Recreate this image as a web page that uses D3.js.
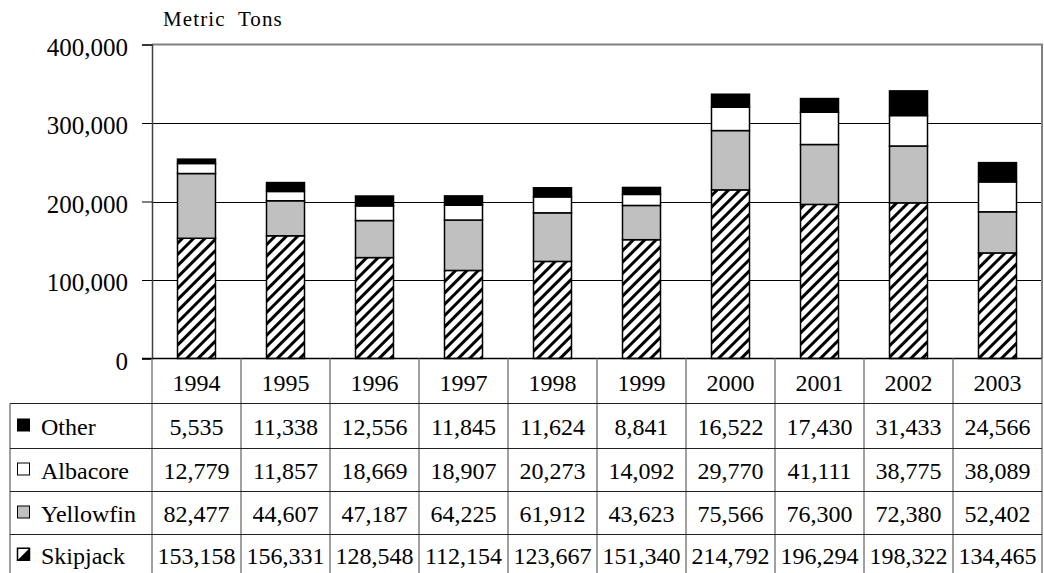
<!DOCTYPE html>
<html>
<head>
<meta charset="utf-8">
<script src="https://cdn.jsdelivr.net/npm/d3@7"></script>
<style>
  html, body { margin: 0; padding: 0; background: #fff; }
  svg { display: block; }
  svg text { font-family: "Liberation Serif", serif; }
</style>
</head>
<body>
<svg id="chart" width="1044" height="573" font-family="Liberation Serif"></svg>
<script>
// Annual catch by species, metric tons
const years = ["1994", "1995", "1996", "1997", "1998", "1999", "2000", "2001", "2002", "2003"];
const skipjack  = [153158, 156331, 128548, 112154, 123667, 151340, 214792, 196294, 198322, 134465];
const yellowfin = [82477, 44607, 47187, 64225, 61912, 43623, 75566, 76300, 72380, 52402];
const albacore  = [12779, 11857, 18669, 18907, 20273, 14092, 29770, 41111, 38775, 38089];
const other     = [5535, 11338, 12556, 11845, 11624, 8841, 16522, 17430, 31433, 24566];
const seriesNames = ["Skipjack", "Yellowfin", "Albacore", "Other"];
const yTicks = [0, 100000, 200000, 300000, 400000];
const unitLabel = "Metric Tons";

const seriesValues = [skipjack, yellowfin, albacore, other];
const rows = years.map((yr, i) => {
  const r = { year: yr };
  seriesNames.forEach((s, k) => r[s] = seriesValues[k][i]);
  return r;
});

const FONT = "Liberation Serif";
const svg = d3.select("#chart");
const plot = { left: 152, right: 1042, top: 44.5, bottom: 358.5 };
const tableLeft = 10;
const rowTops = [358.5, 403.5, 448.5, 491.5, 534.5, 576];

const x = d3.scaleBand().domain(years).range([plot.left, plot.right]).paddingInner(0).paddingOuter(0);
const y = d3.scaleLinear().domain([0, 400000]).range([plot.bottom, plot.top]);
const fmt = d3.format(",");

// Diagonal hatch for skipjack
const defs = svg.append("defs");
const hatch = defs.append("pattern")
  .attr("id", "hatch")
  .attr("patternUnits", "userSpaceOnUse")
  .attr("width", 8).attr("height", 8)
  .attr("patternTransform", "rotate(45)");
hatch.append("rect").attr("width", 8).attr("height", 8).attr("fill", "#fff");
hatch.append("rect").attr("x", 0).attr("width", 3).attr("height", 8).attr("fill", "#000");

const fills = { Skipjack: "url(#hatch)", Yellowfin: "#c0c0c0", Albacore: "#ffffff", Other: "#000000" };

// Gridlines
svg.append("g")
  .selectAll("line")
  .data(yTicks.filter(t => t > 0 && t < 400000))
  .join("line")
  .attr("x1", plot.left).attr("x2", plot.right)
  .attr("y1", d => Math.round(y(d)) + 0.5).attr("y2", d => Math.round(y(d)) + 0.5)
  .attr("stroke", "#000").attr("stroke-width", 1);

// Plot frame top and right
svg.append("path")
  .attr("d", `M${plot.left},${plot.top}H${plot.right}V${plot.bottom}`)
  .attr("fill", "none").attr("stroke", "#808080").attr("stroke-width", 2);

// Y axis
const yAxis = d3.axisLeft(y).tickValues(yTicks).tickSize(10).tickFormat(fmt);
const gy = svg.append("g").attr("transform", `translate(${plot.left},0)`).call(yAxis)
  .attr("font-family", FONT);
gy.select(".domain").attr("stroke", "#404040").attr("stroke-width", 1.5);
gy.selectAll(".tick line").attr("stroke", "#000");
gy.selectAll(".tick text")
  .attr("x", -24).attr("dy", "0.42em")
  .attr("font-size", 25).attr("fill", "#000")
  .attr("font-family", FONT);

svg.append("text")
  .attr("x", 163).attr("y", 26)
  .attr("font-family", FONT)
  .attr("font-size", 21).attr("letter-spacing", 1.1)
  .attr("xml:space", "preserve")
  .text(unitLabel.replace(" ", "  "));

// Stacked bars
const stack = d3.stack().keys(seriesNames);
const stacked = stack(rows);
const barW = 38;
svg.append("g")
  .selectAll("g")
  .data(stacked)
  .join("g")
  .attr("fill", d => fills[d.key])
  .selectAll("rect")
  .data(d => d.map(v => ({ v, year: v.data.year })))
  .join("rect")
  .attr("x", d => x(d.year) + (x.bandwidth() - barW) / 2)
  .attr("width", barW)
  .attr("y", d => y(d.v[1]))
  .attr("height", d => y(d.v[0]) - y(d.v[1]))
  .attr("stroke", "#000").attr("stroke-width", 1.5);

// Baseline
svg.append("line")
  .attr("x1", plot.left - 10).attr("x2", plot.right)
  .attr("y1", plot.bottom).attr("y2", plot.bottom)
  .attr("stroke", "#000").attr("stroke-width", 1.5);

// Data table
const table = svg.append("g").attr("font-family", FONT);
// column separators
table.selectAll("line.col")
  .data(d3.range(years.length + 1))
  .join("line").attr("class", "col")
  .attr("x1", i => plot.left + i * x.bandwidth()).attr("x2", i => plot.left + i * x.bandwidth())
  .attr("y1", plot.bottom).attr("y2", 573)
  .attr("stroke", "#808080").attr("stroke-width", 1.5);
// left border
table.append("line")
  .attr("x1", tableLeft).attr("x2", tableLeft)
  .attr("y1", rowTops[1]).attr("y2", 573)
  .attr("stroke", "#808080").attr("stroke-width", 1.5);
// row separators
table.selectAll("line.row")
  .data(rowTops.slice(1, 5))
  .join("line").attr("class", "row")
  .attr("x1", tableLeft).attr("x2", plot.right)
  .attr("y1", d => d).attr("y2", d => d)
  .attr("stroke", "#202020").attr("stroke-width", 1);

const rowMid = i => (rowTops[i] + rowTops[i + 1]) / 2 + 8.5;

// header years
table.selectAll("text.yr")
  .data(years)
  .join("text").attr("class", "yr")
  .attr("x", d => x(d) + x.bandwidth() / 2)
  .attr("y", rowMid(0) + 1)
  .attr("text-anchor", "middle")
  .attr("font-family", FONT).attr("font-size", 24)
  .text(d => d);

// table rows, top to bottom: Other, Albacore, Yellowfin, Skipjack
const tableOrder = ["Other", "Albacore", "Yellowfin", "Skipjack"];
tableOrder.forEach((name, r) => {
  const ri = r + 1;
  const cy = rowMid(ri);
  const vals = seriesValues[seriesNames.indexOf(name)];
  table.append("g").selectAll("text")
    .data(vals)
    .join("text")
    .attr("x", (d, i) => x(years[i]) + x.bandwidth() / 2)
    .attr("y", cy)
    .attr("text-anchor", "middle")
    .attr("font-family", FONT).attr("font-size", 24)
    .text(d => fmt(d));

  // legend key
  const kx = 17.5, ky = cy - 15.5, ks = 12;
  if (name === "Skipjack") {
    table.append("rect").attr("x", kx).attr("y", ky).attr("width", ks).attr("height", ks)
      .attr("fill", "#fff").attr("stroke", "#000").attr("stroke-width", 1.5);
    table.append("path")
      .attr("d", `M${kx},${ky + ks}L${kx + ks},${ky}V${ky + ks}Z`)
      .attr("fill", "#000");
  } else {
    table.append("rect").attr("x", kx).attr("y", ky).attr("width", ks).attr("height", ks)
      .attr("fill", fills[name]).attr("stroke", "#000").attr("stroke-width", 1);
  }
  table.append("text")
    .attr("x", 41).attr("y", cy)
    .attr("font-family", FONT).attr("font-size", 24)
    .text(name);
});
</script>
</body>
</html>
